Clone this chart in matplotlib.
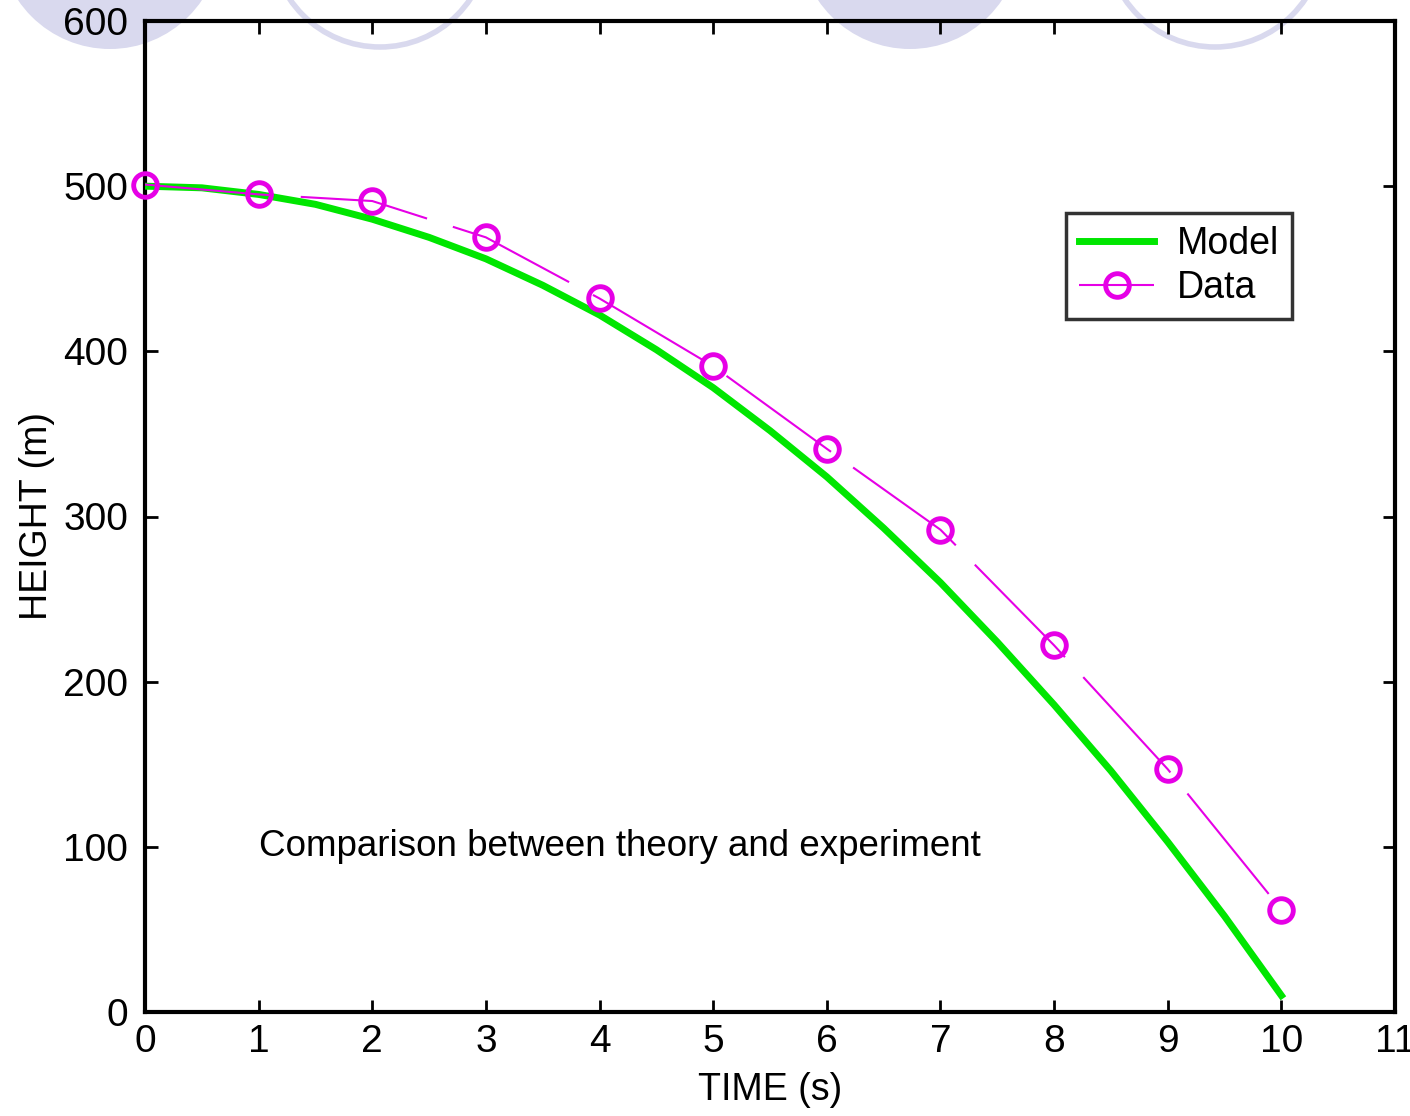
import matplotlib
matplotlib.use('Agg')
from matplotlib import pyplot as plt
from matplotlib.patches import Circle

# model curve
t_model = [0, 0.5, 1, 1.5, 2, 2.5, 3, 3.5, 4, 4.5, 5, 5.5, 6, 6.5, 7, 7.5, 8, 8.5, 9, 9.5, 10]
h_model = [500, 499, 495, 489, 480, 469, 456, 440, 422, 401, 378, 352, 324, 293, 260, 224, 186, 146, 103, 58, 10]

# measured points
t_data = [0, 1, 2, 3, 4, 5, 6, 7, 8, 9, 10]
h_data = [501, 495, 491, 469, 432, 391, 341, 292, 222, 147, 62]

green = '#00e600'
magenta = '#e600e6'
lavender = '#d9d9ee'

plt.rcParams['font.family'] = ['Liberation Sans', 'DejaVu Sans']

fig = plt.figure(figsize=(14.1, 11.16), dpi=100)

# slide background decoration (partial circles along top edge)
bg = fig.add_axes([0, 0, 1, 1], zorder=0)
bg.set_xlim(0, 1410)
bg.set_ylim(1116, 0)
bg.axis('off')
for cx, filled in [(110, True), (380, False), (910, True), (1215, False), (1505, False)]:
    if filled:
        bg.add_patch(Circle((cx, -62), 111, color=lavender, lw=0))
    else:
        bg.add_patch(Circle((cx, -62), 109, facecolor='none', edgecolor=lavender, lw=4))

ax = fig.add_axes([145/1410, 1 - 1012/1116, 1250/1410, 991/1116], zorder=1)
ax.set_facecolor('none')

ax.plot(t_model, h_model, color=green, lw=5, label='Model', zorder=3)
line, = ax.plot(t_data, h_data, color=magenta, lw=1.5, marker='o', ms=17,
                mfc='none', mec=magenta, mew=3.5, label='Data', zorder=4, clip_on=False)
line.set_dashes((62, 13))

ax.set_xlim(0, 11)
ax.set_ylim(0, 600)
ax.set_xticks(range(0, 12))
ax.set_yticks(range(0, 601, 100))
ax.tick_params(direction='in', length=9, width=2, labelsize=28, top=True, right=True)
ax.tick_params(axis='x', pad=9)
ax.tick_params(axis='y', pad=12)
for s in ax.spines.values():
    s.set_linewidth(3)

ax.set_xlabel('TIME (s)', fontsize=27, labelpad=8)
ax.set_ylabel('HEIGHT (m)', fontsize=27, labelpad=6)

ax.text(1.0, 100, 'Comparison between theory and experiment', fontsize=26.5, va='center', ha='left')

leg = ax.legend(loc='upper left', bbox_to_anchor=(0.737, 0.806), borderaxespad=0, fontsize=27,
                frameon=True, fancybox=False, edgecolor='black', handlelength=2.0, borderpad=0.35,
                labelspacing=0.2, handletextpad=0.6)
leg.get_frame().set_linewidth(2.5)

plt.savefig('out.png', dpi=100)
